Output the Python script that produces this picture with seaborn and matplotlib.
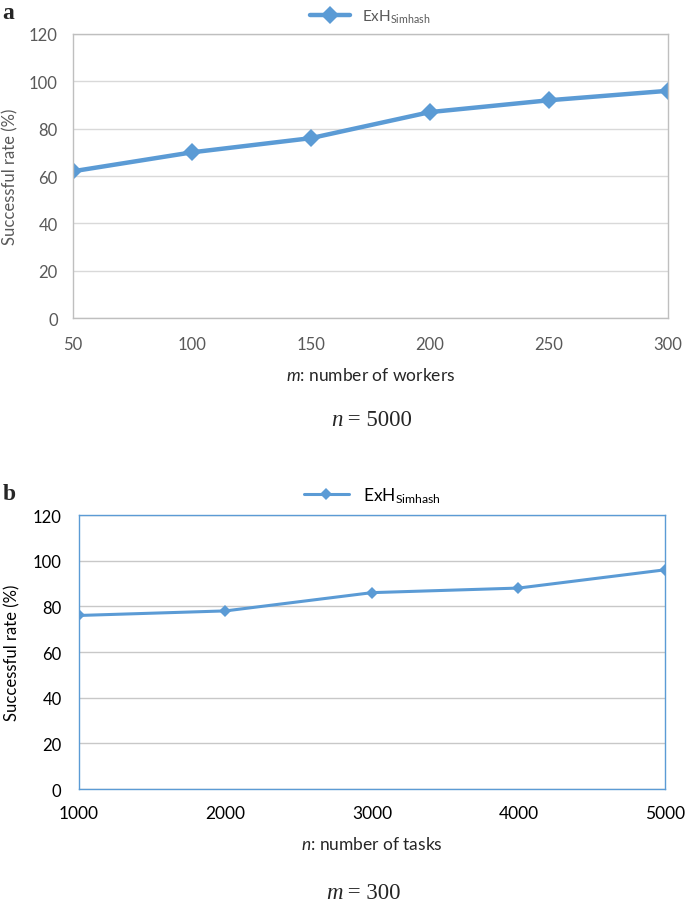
import pandas as pd
import matplotlib
matplotlib.use('Agg')
import matplotlib.pyplot as plt
import seaborn as sns

# Data
workers = [50, 100, 150, 200, 250, 300]
rate_workers = [62, 70, 76, 87, 92, 96]
tasks = [1000, 2000, 3000, 4000, 5000]
rate_tasks = [76, 78, 86, 88, 96]
y_ticks = [0, 20, 40, 60, 80, 100, 120]
series_name = r'ExH$_{\mathrm{Simhash}}$'

sns.set_style('white')
plt.rcParams['font.family'] = ['Lato', 'DejaVu Sans']
plt.rcParams['mathtext.fontset'] = 'custom'
plt.rcParams['mathtext.rm'] = 'Lato'
plt.rcParams['mathtext.it'] = 'Lato:italic'

blue = '#5B9BD5'
grid_c = '#D9D9D9'

fig = plt.figure(figsize=(6.85, 9.04), dpi=100)
ax1 = fig.add_axes([0.1066, 0.6471, 0.8686, 0.3142])
ax2 = fig.add_axes([0.1153, 0.1261, 0.8555, 0.3031])

df_a = pd.DataFrame({'m': workers, 'rate': rate_workers})
df_b = pd.DataFrame({'n': tasks, 'rate': rate_tasks})

# Panel a
sns.lineplot(data=df_a, x='m', y='rate', ax=ax1, color=blue, linewidth=3.2,
             marker='D', markersize=9, markeredgewidth=0, label=series_name)
ax1.set_xlim(50, 300)
ax1.set_ylim(0, 120)
ax1.set_yticks(y_ticks)
ax1.set_xticks(workers)
ax1.grid(axis='y', color=grid_c, linewidth=1)
ax1.set_axisbelow(True)
for s in ax1.spines.values():
    s.set_color('#BFBFBF')
    s.set_linewidth(1)
ax1.tick_params(axis='both', length=0, labelsize=12, labelcolor='#595959')
ax1.tick_params(axis='y', pad=11)
ax1.tick_params(axis='x', pad=13)
ax1.set_xlabel(r'$\mathit{m}$: number of workers', fontsize=12.5, color='#262626', labelpad=10)
ax1.set_ylabel('Successful rate (%)', fontsize=12, color='#595959')
ax1.yaxis.set_label_coords(-0.092, 0.5)
ax1.legend(loc='lower center', bbox_to_anchor=(0.5, 1.0), frameon=False, fontsize=11,
           handlelength=2.6, labelcolor='#595959', borderaxespad=0.2)

# Panel b
sns.lineplot(data=df_b, x='n', y='rate', ax=ax2, color=blue, linewidth=2.2,
             marker='D', markersize=6, markeredgewidth=0, label=series_name)
ax2.set_xlim(1000, 5000)
ax2.set_ylim(0, 120)
ax2.set_yticks(y_ticks)
ax2.set_xticks(tasks)
ax2.grid(axis='y', color='#C8C8C8', linewidth=1)
ax2.set_axisbelow(True)
for s in ax2.spines.values():
    s.set_color(blue)
    s.set_linewidth(1)
ax2.tick_params(axis='both', length=4.5, width=1, color='#BFBFBF', labelsize=12.5,
                labelcolor='black', direction='out')
ax2.tick_params(axis='y', pad=8, labelsize=12)
ax2.tick_params(axis='x', pad=7)
ax2.set_xlabel(r'$\mathit{n}$: number of tasks', fontsize=12.5, color='#262626', labelpad=10)
ax2.set_ylabel('Successful rate (%)', fontsize=12, color='black')
ax2.yaxis.set_label_coords(-0.1, 0.5)
ax2.legend(loc='lower center', bbox_to_anchor=(0.5, 1.0), frameon=False, fontsize=12.5,
           handlelength=2.6, labelcolor='black', borderaxespad=0.2)

# Panel letters
fig.text(0.004, 0.997, 'a', fontsize=17, fontweight='bold', family='Liberation Serif', va='top')
fig.text(0.004, 0.465, 'b', fontsize=17, fontweight='bold', family='Liberation Serif', va='top')

# Captions with italic variable
def caption(y, var, rest):
    fig.text(0.5, y, var, fontsize=16.5, style='italic', family='Liberation Serif',
             ha='right', va='baseline')
    fig.text(0.5, y, rest, fontsize=16.5, family='Liberation Serif', ha='left', va='baseline')

caption(1 - 426 / 904, 'n', ' = 5000')
caption(1 - 899 / 904, 'm', ' = 300')

fig.savefig('out.png', dpi=100)
